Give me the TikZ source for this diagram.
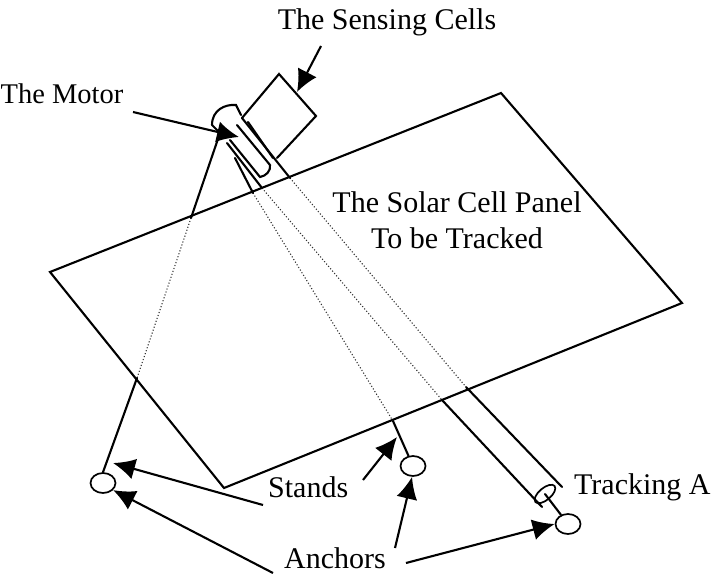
\documentclass[tikz,border=0pt]{standalone}
\usepackage{fontspec}
\setmainfont{Liberation Serif}
\usetikzlibrary{arrows.meta,shapes.geometric}
\tikzset{
  member/.style={line width=2.1pt, line cap=round},
  hiddenline/.style={line width=1.1pt, dotted, black!80},
  callout/.style={line width=2.1pt, -{Latex[length=22pt,width=21pt]}},
  anchorblob/.style={draw, line width=1.7pt, ellipse, fill=white, inner sep=0pt, minimum width=25pt, minimum height=20pt},
  caption/.style={font=\fontsize{30}{36}\selectfont, inner sep=0pt}
}
\begin{document}
\begin{tikzpicture}[x=1pt,y=-1pt]
\useasboundingbox (0,0) rectangle (714,583);
% Panel
\draw[member, line join=miter] (501,93) -- (50,272) -- (224,488) -- (682,303) -- cycle;
% Hidden parts behind the panel
\draw[hiddenline] (191,218) -- (137,378);
\draw[hiddenline] (253,193) -- (393,421);
\draw[hiddenline] (262,188) -- (442,400);
\draw[hiddenline] (290,178) -- (466,387);
% Anchors
\foreach \name/\pos in {anchorLeft/{(103,483)}, anchorMid/{(413,466)}, anchorRight/{(568,524)}} {
  \node[anchorblob] (\name) at \pos {};
}
% Stands
\coordinate (pivot) at (220,133);
\coordinate (hideA) at (191,218);
\coordinate (showA) at (137,378);
\coordinate (standMidTop) at (393,421);
\draw[member] (pivot) -- (hideA);
\draw[member] (showA) -- (anchorLeft.north);
\draw[member] (235,158) -- (253,193);
\draw[member] (standMidTop) -- (anchorMid);
% Tracking tube
\draw[member] (227,143) -- (262,188);
\draw[member] (242,118) -- (290,178);
\draw[member] (442,400) -- (542,507);
\draw[member] (466,387) -- (562,487);
\node[draw, line width=1.7pt, ellipse, rotate=40, inner sep=0pt, minimum width=25pt, minimum height=12pt] (tubeEnd) at (545,494) {};
\draw[member] (tubeEnd.center) -- (anchorRight);
% Sensing box
\draw[member, line join=miter] (242,118) -- (279,74) -- (316,116) -- (277,158);
\draw[member] (248,122) -- (273,158);
% Motor
\draw[member] (212,125) .. controls (212,110) and (225,104) .. (236,105) -- (241,115);
\draw[member] (212,125) -- (218,131);
\draw[member] (237,125) -- (270,165) .. controls (271,171) and (266,176) .. (260,177) -- (230,140);
% Labels
\node[caption, font=\fontsize{28.5}{34}\selectfont, anchor=west] (lblMotor) at (0.5,94) {The Motor};
\node[caption] (lblCells) at (387,22) {The Sensing Cells};
\node[caption, align=center] (lblPanel) at (457,220) {The Solar Cell Panel\\To be Tracked};
\node[caption, anchor=west] (lblStands) at (268,487) {Stands};
\node[caption, anchor=west] (lblAnchors) at (284,558) {Anchors};
\node[caption, anchor=west] (lblTrack) at (574,487) {Tracking A};
% Callouts
\coordinate (tipCells) at (297,92);
\coordinate (tipMotor) at (239,137);
\coordinate (tipStandL) at (113,463);
\coordinate (tipStandM) at (397,437);
\coordinate (fromCells) at (321,46);
\coordinate (fromMotor) at (133,112);
\coordinate (fromStandL) at (263,505);
\coordinate (fromStandM) at (363,480);
\coordinate (fromAnchorL) at (273,573);
\coordinate (fromAnchorM) at (395,548);
\coordinate (fromAnchorR) at (406,563);
\draw[callout] (fromCells) -- (tipCells);
\draw[callout] (fromMotor) -- (tipMotor);
\draw[callout] (fromStandL) -- (tipStandL);
\draw[callout] (fromStandM) -- (tipStandM);
\draw[callout] (fromAnchorL) -- (anchorLeft.-35);
\draw[callout] (fromAnchorM) -- (anchorMid.-95);
\draw[callout] (fromAnchorR) -- (anchorRight.west);
\end{tikzpicture}
\end{document}
